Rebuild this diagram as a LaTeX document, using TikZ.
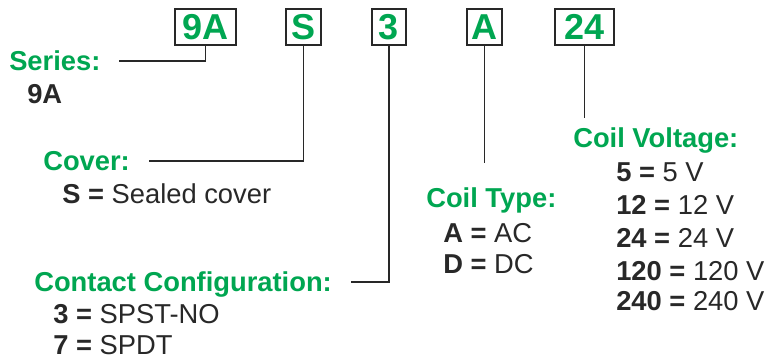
\documentclass[tikz,border=0pt]{standalone}
\usepackage{fontspec}
\setsansfont{Liberation Sans}
\usetikzlibrary{positioning,calc}
\definecolor{pngreen}{RGB}{0,166,81}
\definecolor{pngray}{RGB}{40,40,40}

\begin{document}
\begin{tikzpicture}[x=0.75pt, y=-0.75pt, font=\sffamily,
  pnbox/.style={draw=pngray, line width=1.3pt, inner sep=0pt, minimum height=27pt, text=pngreen, font=\sffamily\bfseries\fontsize{27}{30}\selectfont},
  head/.style={anchor=base west, inner sep=0pt, text=pngreen, font=\sffamily\bfseries\fontsize{20.5}{24}\selectfont},
  item/.style={anchor=base west, inner sep=0pt, text=pngray, font=\sffamily\fontsize{20.5}{24}\selectfont},
  link/.style={draw=pngray, line width=1.1pt}]
\useasboundingbox (0,0) rectangle (765,358);
% part number boxes
\foreach \x/\w/\name/\code in {205.5/45.75pt/b9a/9A, 303.5/26.25pt/bs/S, 389/25.5pt/b3/3, 484.5/26.25pt/ba/A, 584.5/44.25pt/b24/24}
  \node[pnbox, minimum width=\w] (\name) at (\x,27) {\code};
% series
\node[head] (series) at (9,70) {Series:};
\node[item, font=\sffamily\bfseries\fontsize{20.5}{24}\selectfont] (series-9a) at (27,103) {9A};
% cover
\node[head] (cover) at (43,170) {Cover:};
\node[item] (cover-s) at (62,203) {\textbf{S =} Sealed cover};
% contacts
\node[head] (contact) at (34,291) {Contact Configuration:};
\foreach \y/\k/\v in {323/3/SPST-NO, 354/7/SPDT}
  \node[item] (contact-\k) at (53,\y) {\textbf{\k\ =} \v};
% coil type
\node[head] (coiltype) at (426,207) {Coil Type:};
\foreach \y/\k/\v in {242/A/AC, 273/D/DC}
  \node[item] (coiltype-\k) at (443,\y) {\textbf{\k\ =} \v};
% coil voltage
\node[head] (coilvolt) at (573,147) {Coil Voltage:};
\foreach \y/\k in {181/5, 214/12, 247/24, 280/120, 310/240}
  \node[item] (coilvolt-\k) at (616,\y) {\textbf{\k\ =} \k\ V};
% leader lines
\coordinate (ba-end) at ($(ba.south)+(0,117)$);
\coordinate (b24-end) at ($(b24.south)+(0,72)$);
\draw[link] (b9a.south) |- ([xshift=14pt,yshift=6.75pt]series.base east);
\draw[link] (bs.south) |- ([xshift=14pt,yshift=6.75pt]cover.base east);
\draw[link] (b3.south) |- ([xshift=14pt,yshift=6.75pt]contact.base east);
\draw[link] (ba.south) -- (ba-end);
\draw[link] (b24.south) -- (b24-end);
\end{tikzpicture}
\end{document}
